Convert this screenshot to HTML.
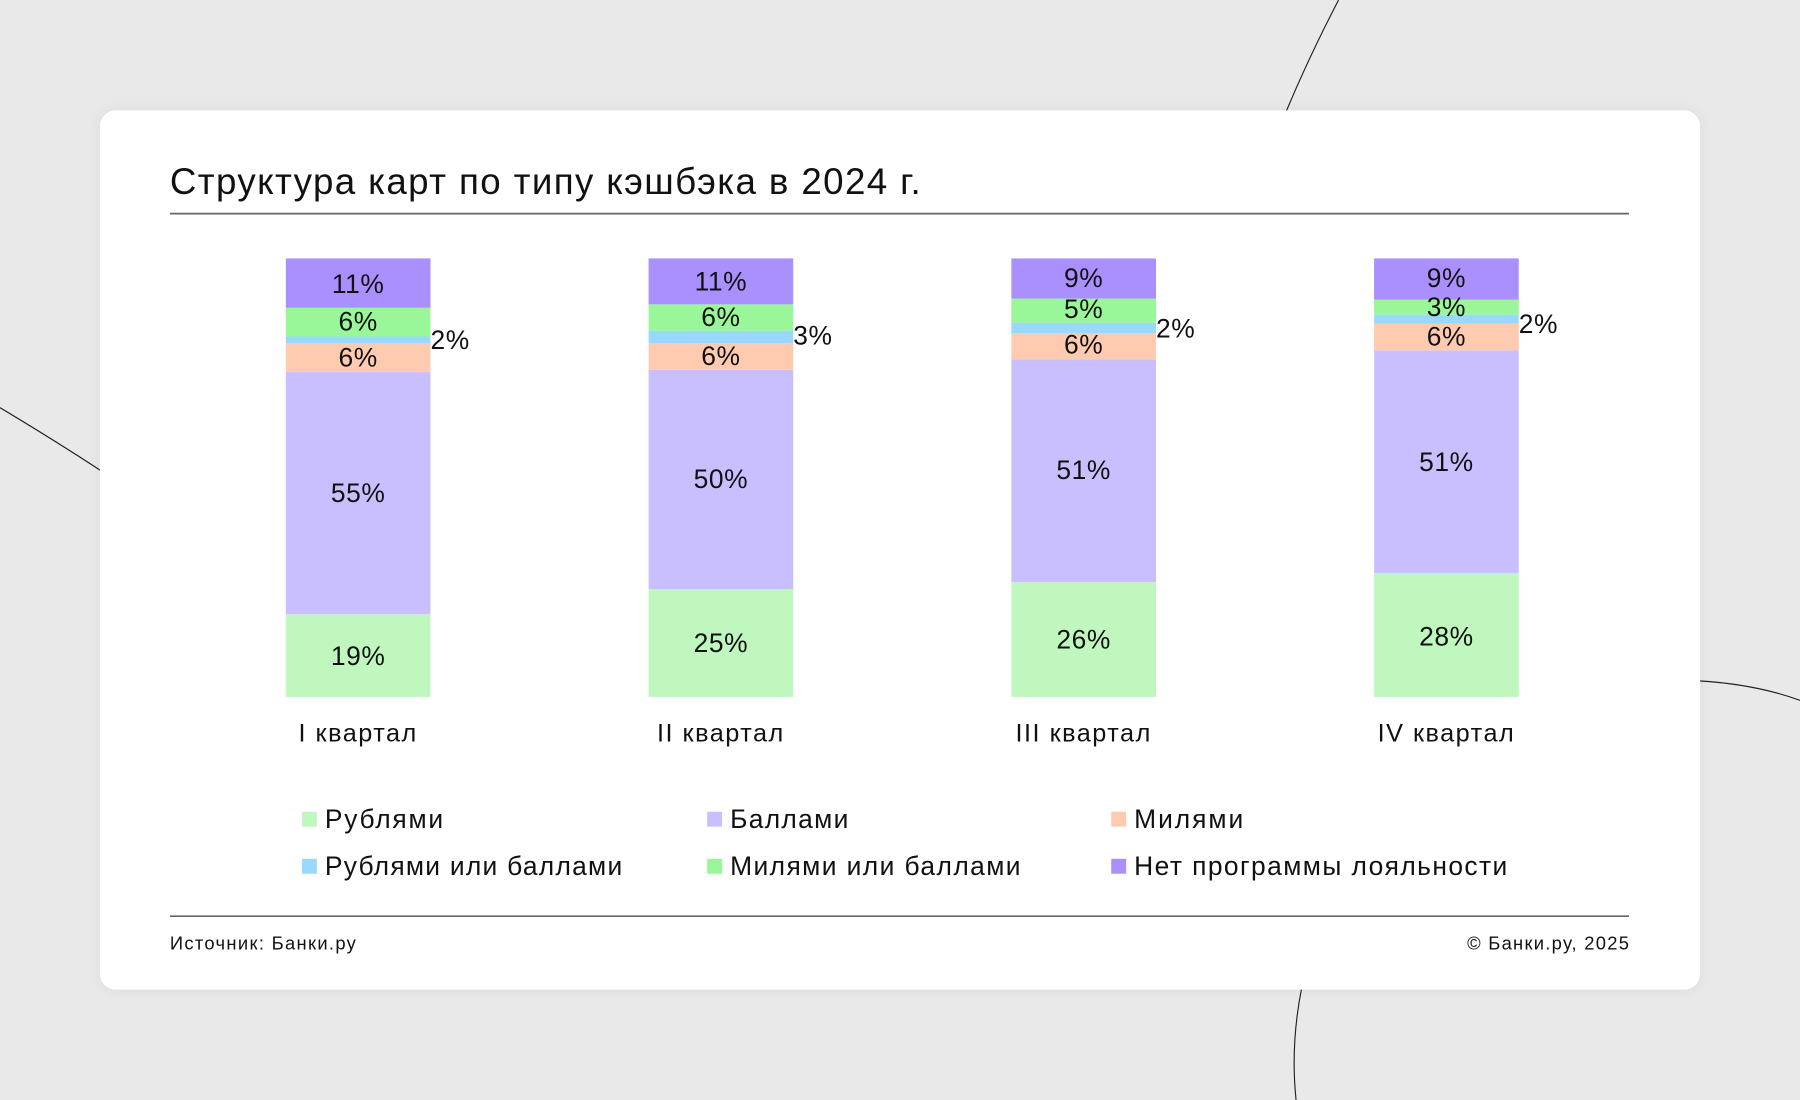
<!DOCTYPE html>
<html><head><meta charset="utf-8"><style>
html,body{margin:0;padding:0;background:#e9e9e9;}
svg{display:block;}
text{font-family:"Liberation Sans",sans-serif;fill:#111;}
</style></head><body>
<svg width="1800" height="1100" viewBox="0 0 1568 958" xmlns="http://www.w3.org/2000/svg">
<defs><filter id="sh" x="-5%" y="-5%" width="110%" height="110%"><feGaussianBlur stdDeviation="6"/></filter></defs>
<rect width="1568" height="958" fill="#e9e9e9"/>
<g fill="none" stroke="#222" stroke-width="1">
<path d="M1166,0 Q1140,50 1120,98"/>
<path d="M0,355 Q50,385 88,410"/>
<path d="M1480,593 Q1530,596 1568,610"/>
<path d="M1134,860 Q1124,910 1129,958"/>
</g>
<rect x="87" y="96" width="1394" height="766" rx="14" fill="#000" opacity="0.06" filter="url(#sh)"/>
<rect x="87" y="96" width="1394" height="766" rx="14" fill="#fff"/>
<text x="148" y="169" font-size="32" fill="#222" textLength="654" lengthAdjust="spacing">Структура карт по типу кэшбэка в 2024 г.</text>
<line x1="148" y1="186" x2="1419" y2="186" stroke="#666" stroke-width="1.5"/>
<g>
<rect x="249" y="535" width="126" height="72" fill="#bff7bf"/>
<rect x="249" y="324" width="126" height="211" fill="#c9bfff"/>
<rect x="249" y="299" width="126" height="25" fill="#ffcbb0"/>
<rect x="249" y="293" width="126" height="6" fill="#99d9ff"/>
<rect x="249" y="268" width="126" height="25" fill="#99f799"/>
<rect x="249" y="225" width="126" height="43" fill="#aa8fff"/>
<rect x="565" y="513" width="126" height="94" fill="#bff7bf"/>
<rect x="565" y="322" width="126" height="191" fill="#c9bfff"/>
<rect x="565" y="299" width="126" height="23" fill="#ffcbb0"/>
<rect x="565" y="288" width="126" height="11" fill="#99d9ff"/>
<rect x="565" y="265" width="126" height="23" fill="#99f799"/>
<rect x="565" y="225" width="126" height="40" fill="#aa8fff"/>
<rect x="881" y="507" width="126" height="100" fill="#bff7bf"/>
<rect x="881" y="313" width="126" height="194" fill="#c9bfff"/>
<rect x="881" y="290" width="126" height="23" fill="#ffcbb0"/>
<rect x="881" y="281" width="126" height="9" fill="#99d9ff"/>
<rect x="881" y="260" width="126" height="21" fill="#99f799"/>
<rect x="881" y="225" width="126" height="35" fill="#aa8fff"/>
<rect x="1197" y="499" width="126" height="108" fill="#bff7bf"/>
<rect x="1197" y="305" width="126" height="194" fill="#c9bfff"/>
<rect x="1197" y="282" width="126" height="23" fill="#ffcbb0"/>
<rect x="1197" y="274" width="126" height="8" fill="#99d9ff"/>
<rect x="1197" y="261" width="126" height="13" fill="#99f799"/>
<rect x="1197" y="225" width="126" height="36" fill="#aa8fff"/>
</g>
<g font-size="23" text-anchor="middle" letter-spacing="0.5">
<text x="312" y="255">11%</text><text x="312" y="288">6%</text><text x="312" y="319">6%</text><text x="312" y="437">55%</text><text x="312" y="579">19%</text>
<text x="628" y="253">11%</text><text x="628" y="284">6%</text><text x="628" y="318">6%</text><text x="628" y="425">50%</text><text x="628" y="568">25%</text>
<text x="944" y="250">9%</text><text x="944" y="277">5%</text><text x="944" y="308">6%</text><text x="944" y="417">51%</text><text x="944" y="565">26%</text>
<text x="1260" y="250">9%</text><text x="1260" y="275">3%</text><text x="1260" y="301">6%</text><text x="1260" y="410">51%</text><text x="1260" y="562">28%</text>
</g>
<g font-size="23" letter-spacing="0.5">
<text x="375" y="304">2%</text><text x="691" y="300">3%</text><text x="1007" y="294">2%</text><text x="1323" y="290">2%</text>
</g>
<g font-size="22" text-anchor="middle" letter-spacing="1.3">
<text x="312" y="646">I квартал</text><text x="628" y="646">II квартал</text><text x="944" y="646">III квартал</text><text x="1260" y="646">IV квартал</text>
</g>
<g font-size="23">
<rect x="263" y="707" width="13" height="13" fill="#bff7bf"/><text x="283" y="721" textLength="103" lengthAdjust="spacing">Рублями</text>
<rect x="616" y="707" width="13" height="13" fill="#c9bfff"/><text x="636" y="721" textLength="103" lengthAdjust="spacing">Баллами</text>
<rect x="968" y="707" width="13" height="13" fill="#ffcbb0"/><text x="988" y="721" textLength="95" lengthAdjust="spacing">Милями</text>
<rect x="263" y="748" width="13" height="13" fill="#99d9ff"/><text x="283" y="762" textLength="259" lengthAdjust="spacing">Рублями или баллами</text>
<rect x="616" y="748" width="13" height="13" fill="#99f799"/><text x="636" y="762" textLength="253" lengthAdjust="spacing">Милями или баллами</text>
<rect x="968" y="748" width="13" height="13" fill="#aa8fff"/><text x="988" y="762" textLength="325" lengthAdjust="spacing">Нет программы лояльности</text>
</g>
<line x1="148" y1="798" x2="1419" y2="798" stroke="#666" stroke-width="1.5"/>
<text x="148" y="827" font-size="16" fill="#333" textLength="162" lengthAdjust="spacing">Источник: Банки.ру</text>
<text x="1278" y="827" font-size="16" fill="#333" textLength="141" lengthAdjust="spacing">© Банки.ру, 2025</text>
</svg>
</body></html>
